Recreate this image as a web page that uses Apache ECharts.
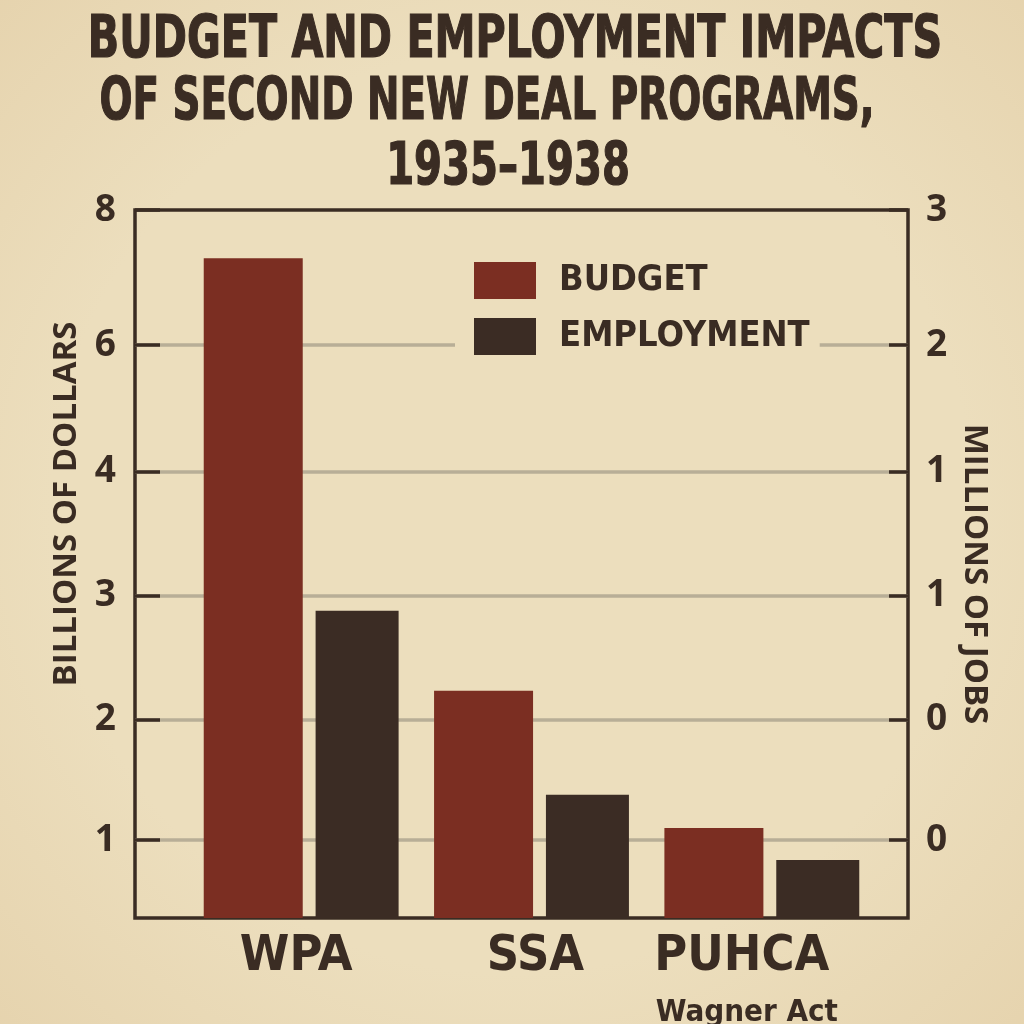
<!DOCTYPE html>
<html><head><meta charset="utf-8">
<script src="https://cdn.jsdelivr.net/npm/echarts@6/dist/echarts.min.js"></script>
<style>html,body{margin:0;padding:0;background:#e9d8b6;} #c{width:1024px;height:1024px;}</style>
</head><body><div id="c"></div>
<script>
// ---- data ----
const categories = ['WPA', 'SSA', 'PUHCA'];
const subLabels = ['', '', 'Wagner Act'];
const seriesNames = ['BUDGET', 'EMPLOYMENT'];
// bar heights on the chart's shared vertical scale (0 = baseline, 100 = top of frame)
const budget = [93.2, 32.1, 12.7];
const employment = [43.4, 17.4, 8.2];
// tick positions on that scale, and the printed tick labels
const tickPositions = [11.0, 28.0, 45.5, 63.1, 80.9, 100];
const leftTickLabels = ['1', '2', '3', '4', '6', '8'];
const rightTickLabels = ['0', '0', '1', '1', '2', '3'];
const titleLines = ['BUDGET AND EMPLOYMENT IMPACTS', 'OF SECOND NEW DEAL PROGRAMS,', '1935–1938'];
const leftAxisName = 'BILLIONS OF DOLLARS';
const rightAxisName = 'MILLIONS OF JOBS';

// ---- style ----
const BG_CENTER = '#ecdebd';
const BG_EDGE = '#e5d2ac';
const INK = '#3a2c23';
const RED = '#7b2e22';
const BROWN = '#3b2c24';
const GRIDC = '#b8ae97';
const NARROW = "'DejaVu Sans Condensed', 'DejaVu Sans', sans-serif";
const SANS = "'Open Sans', 'Noto Sans', sans-serif";

function labelFor(arr) {
  return function (v) {
    let best = 0, d = Infinity;
    tickPositions.forEach((p, i) => { if (Math.abs(p - v) < d) { d = Math.abs(p - v); best = i; } });
    return d < 0.01 ? arr[best] : '';
  };
}

const titleLayout = [ { x: 515, y: 42, sx: 0.79 }, { x: 487, y: 104, sx: 0.745 }, { x: 508, y: 169, sx: 0.77 } ];
const catLabelPad = [[0, 10, 0, 0], [0, 0, 0, 8], [0, 40, 0, 0]];

const rich = {
  b: { fontFamily: NARROW, fontWeight: 'bold', fontSize: 31, lineHeight: 50, color: INK, padding: [0, 30, 0, 0] }
};
catLabelPad.forEach((p, i) => {
  rich['r' + i] = { fontFamily: NARROW, fontWeight: 'bold', fontSize: 50, lineHeight: 62, color: INK, padding: p };
});

const chart = echarts.init(document.getElementById('c'));
chart.setOption({
  backgroundColor: {
    type: 'radial', x: 0.5, y: 0.5, r: 0.75,
    colorStops: [{ offset: 0, color: BG_CENTER }, { offset: 0.6, color: BG_CENTER }, { offset: 1, color: BG_EDGE }]
  },
  animation: false,
  graphic: titleLines.map((t, i) => ({
    type: 'text', x: titleLayout[i].x, y: titleLayout[i].y, scaleX: titleLayout[i].sx, scaleY: 1,
    silent: true,
    style: { text: t, fill: INK, stroke: INK, lineWidth: 1.2,
      font: "bold 58px 'DejaVu Sans Condensed', 'DejaVu Sans', sans-serif",
      textAlign: 'center', textVerticalAlign: 'middle' }
  })),
  legend: {
    data: seriesNames,
    orient: 'vertical',
    left: 455, top: 252,
    padding: [10, 10, 10, 19],
    backgroundColor: BG_CENTER,
    itemWidth: 62, itemHeight: 37, itemGap: 19,
    icon: 'rect',
    z: 6,
    textStyle: { fontFamily: NARROW, fontWeight: 'bold', fontSize: 36, lineHeight: 37, color: INK, padding: [0, 0, 0, 18] }
  },
  grid: [
    { left: 135, right: 116, top: 210, bottom: 106, show: true, borderColor: INK, borderWidth: 3.5,
      backgroundColor: 'transparent', outerBoundsMode: 'none', containLabel: false },
    { left: 186, right: 147, top: 210, bottom: 106, show: false, outerBoundsMode: 'none', containLabel: false }
  ],
  xAxis: [
    { gridIndex: 0, type: 'category', data: categories, show: false },
    { gridIndex: 1, type: 'category', data: categories,
      axisLine: { show: false }, axisTick: { show: false },
      axisLabel: {
        interval: 0, margin: 8, color: INK,
        formatter: function (v, i) {
          const main = '{r' + i + '|' + v + '}';
          return subLabels[i] ? main + '\n{b|' + subLabels[i] + '}' : main;
        },
        rich: rich
      } }
  ],
  yAxis: [
    { gridIndex: 0, type: 'value', position: 'left', min: 0, max: 100, z: 3,
      name: leftAxisName, nameLocation: 'middle', nameRotate: 90, nameGap: 52,
      nameTextStyle: { fontFamily: SANS, fontWeight: 'bold', fontSize: 33, color: INK, padding: [0, 0, 0, 120] },
      axisLine: { show: false },
      axisTick: { show: true, inside: true, length: 25, lineStyle: { color: INK, width: 3.5 }, customValues: tickPositions },
      axisLabel: { customValues: tickPositions, formatter: labelFor(leftTickLabels), margin: 19,
        fontFamily: SANS, fontWeight: 'bold', fontSize: 37, color: INK },
      splitLine: { show: false } },
    { gridIndex: 0, type: 'value', position: 'right', min: 0, max: 100, z: 3,
      name: rightAxisName, nameLocation: 'middle', nameRotate: -90, nameGap: 47,
      nameTextStyle: { fontFamily: SANS, fontWeight: 'bold', fontSize: 33, color: INK, padding: [0, 0, 0, 20] },
      axisLine: { show: false },
      axisTick: { show: true, inside: true, length: 19, lineStyle: { color: INK, width: 3.5 }, customValues: tickPositions },
      axisLabel: { customValues: tickPositions, formatter: labelFor(rightTickLabels), margin: 18,
        fontFamily: SANS, fontWeight: 'bold', fontSize: 37, color: INK },
      splitLine: { show: false } },
    { gridIndex: 1, type: 'value', min: 0, max: 100, show: false }
  ],
  series: [
    { type: 'line', xAxisIndex: 0, yAxisIndex: 0, data: [], silent: true, z: 1,
      markLine: { silent: true, symbol: 'none', z: 1, label: { show: false },
        lineStyle: { color: GRIDC, width: 3.5, type: 'solid' },
        data: tickPositions.slice(0, tickPositions.length - 1).map(v => ({ yAxis: v })) } },
    { name: seriesNames[0], type: 'bar', xAxisIndex: 1, yAxisIndex: 2, data: budget, z: 2,
      barWidth: 99, barGap: '13%', itemStyle: { color: RED } },
    { name: seriesNames[1], type: 'bar', xAxisIndex: 1, yAxisIndex: 2, data: employment, z: 2,
      barWidth: 83, barGap: '13%', itemStyle: { color: BROWN } }
  ]
});
</script>
</body></html>
